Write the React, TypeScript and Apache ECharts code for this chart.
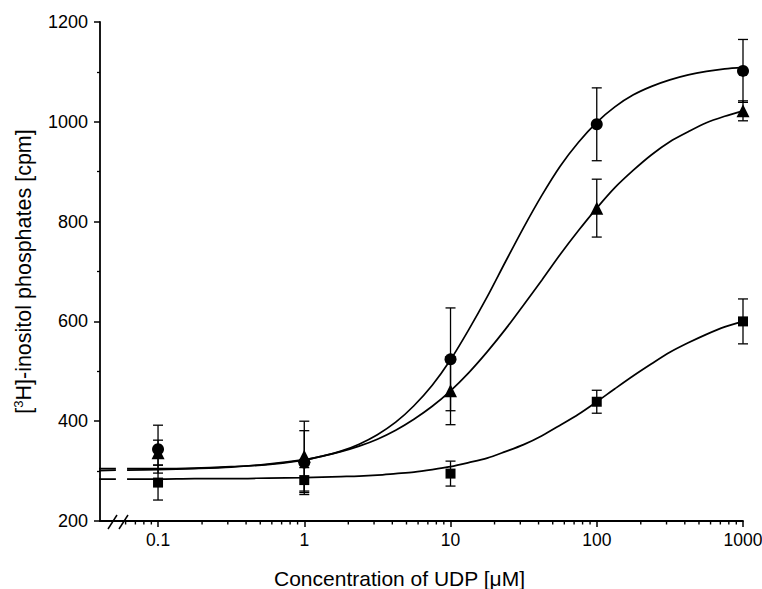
import React, { useEffect, useRef } from "react";
import * as echarts from "echarts";

// Concentrations of UDP (µM) at which measurements were taken
const CONC = [0.1, 1, 10, 100, 1000];
const TICK_VALUES = [0.1, 1, 10, 100, 1000];
const TICK_LABELS = ["0.1", "1", "10", "100", "1000"];
const MINOR_TICKS = [
  0.06, 0.07, 0.08, 0.09,
  0.2, 0.3, 0.4, 0.5, 0.6, 0.7, 0.8, 0.9,
  2, 3, 4, 5, 6, 7, 8, 9,
  20, 30, 40, 50, 60, 70, 80, 90,
  200, 300, 400, 500, 600, 700, 800, 900,
];

// measured means and errors (cpm)
const CIRCLE_MEAN = [344, 317, 524, 995, 1102];
const CIRCLE_ERR = [48, 64, 103, 73, 63];
const TRIANGLE_MEAN = [337, 330, 461, 827, 1022];
const TRIANGLE_ERR = [25, 70, 68, 58, 20];
const SQUARE_MEAN = [277, 282, 295, 439, 600];
const SQUARE_ERR = [35, 25, 25, 23, 45];

// fitted curves (null = axis break gap)
const CURVE_X = [0.0382, 0.0515, null, 0.0614, 0.1, 0.178, 0.316, 0.562, 1, 1.33, 1.78, 2.37, 3.16, 4.22, 5.62, 7.5, 10, 13.3, 17.8, 23.7, 31.6, 42.2, 56.2, 75, 100, 133, 178, 237, 316, 422, 562, 750, 1000];
const CIRCLE_CURVE = [305, 305, null, 305, 305, 306, 309, 313, 322, 330, 340, 354, 373, 398, 431, 472, 523, 583, 649, 719, 788, 853, 911, 959, 999, 1030, 1054, 1071, 1084, 1094, 1101, 1106, 1109];
const TRIANGLE_CURVE = [301, 302, null, 302, 303, 305, 308, 314, 323, 330, 339, 350, 364, 382, 404, 430, 461, 497, 539, 584, 633, 683, 734, 782, 827, 868, 903, 934, 960, 980, 998, 1011, 1022];
const SQUARE_CURVE = [284, 284, null, 284, 284, 285, 285, 286, 287, 288, 289, 290, 292, 295, 298, 303, 309, 317, 326, 339, 353, 371, 392, 414, 439, 465, 491, 515, 538, 557, 574, 589, 600];

const X_MIN = 0.0401;
const X_MAX = 1000;
const Y_MIN = 200;
const Y_MAX = 1200;
const FONT = "Liberation Sans, Arial, Helvetica, sans-serif";

const lg = (v: number) => Math.log10(v);

function curveData(ys: (number | null)[]) {
  return CURVE_X.map((x, i) =>
    x === null || ys[i] === null ? ["-", "-"] : [lg(x), ys[i] as number]
  );
}

function pointData(ys: number[]) {
  return CONC.map((c, i) => [lg(c), ys[i]]);
}

function errData(ys: number[], es: number[]) {
  return CONC.map((c, i) => [lg(c), ys[i], es[i]]);
}

function errorSeries(name: string, ys: number[], es: number[]) {
  return {
    type: "custom",
    name,
    z: 3,
    clip: false,
    data: errData(ys, es),
    renderItem: (params: any, api: any) => {
      const x = api.value(0);
      const y = api.value(1);
      const e = api.value(2);
      const top = api.coord([x, y + e]);
      const bot = api.coord([x, y - e]);
      const hw = 5;
      const style = { stroke: "#000", lineWidth: 1.3 };
      return {
        type: "group",
        children: [
          { type: "line", shape: { x1: top[0], y1: top[1], x2: bot[0], y2: bot[1] }, style },
          { type: "line", shape: { x1: top[0] - hw, y1: top[1], x2: top[0] + hw, y2: top[1] }, style },
          { type: "line", shape: { x1: bot[0] - hw, y1: bot[1], x2: bot[0] + hw, y2: bot[1] }, style },
        ],
      };
    },
  };
}

function minorTickSeries() {
  return {
    type: "custom",
    z: 4,
    clip: false,
    silent: true,
    data: MINOR_TICKS.map((v) => [lg(v), Y_MIN]),
    renderItem: (params: any, api: any) => {
      const p = api.coord([api.value(0), api.value(1)]);
      return {
        type: "line",
        shape: { x1: p[0], y1: p[1], x2: p[0], y2: p[1] + 3.5 },
        style: { stroke: "#000", lineWidth: 1.4 },
      };
    },
  };
}

function curveSeries(ys: (number | null)[]) {
  return {
    type: "line",
    data: curveData(ys),
    showSymbol: false,
    symbol: "none",
    smooth: 0.3,
    connectNulls: false,
    clip: false,
    z: 2,
    lineStyle: { color: "#000", width: 1.7 },
  };
}

function pointSeries(ys: number[], symbol: string, size: number) {
  return {
    type: "scatter",
    data: pointData(ys),
    symbol,
    symbolSize: size,
    z: 5,
    itemStyle: { color: "#000", opacity: 1 },
  };
}

export default function App() {
  const ref = useRef<HTMLDivElement>(null);

  useEffect(() => {
    if (!ref.current) return;
    const chart = echarts.init(ref.current, undefined, { renderer: "svg" });
    const axisLine = { show: true, onZero: false, lineStyle: { color: "#000", width: 1.8 } };
    chart.setOption({
      animation: false,
      backgroundColor: "#fff",
      grid: {
        left: 100,
        right: 19,
        top: 22,
        bottom: 68,
        containLabel: false,
        outerBoundsMode: "none",
      },
      xAxis: {
        type: "value",
        min: lg(X_MIN),
        max: lg(X_MAX),
        axisLine,
        splitLine: { show: false },
        axisTick: {
          show: true,
          inside: false,
          length: 6,
          lineStyle: { color: "#000", width: 1.5 },
          customValues: TICK_VALUES.map(lg),
        },
        axisLabel: {
          show: true,
          margin: 10,
          color: "#000",
          fontFamily: FONT,
          fontSize: 17.5,
          customValues: TICK_VALUES.map(lg),
          formatter: (v: number) => {
            const idx = TICK_VALUES.findIndex((t) => Math.abs(lg(t) - v) < 1e-6);
            return idx >= 0 ? TICK_LABELS[idx] : "";
          },
        },
        name: "Concentration of UDP [μM]",
        nameLocation: "middle",
        nameGap: 47,
        nameTextStyle: {
          color: "#000",
          fontFamily: FONT,
          fontSize: 21,
          padding: [0, 44, 0, 0],
        },
      },
      yAxis: {
        type: "value",
        min: Y_MIN,
        max: Y_MAX,
        interval: 200,
        axisLine,
        splitLine: { show: false },
        axisTick: { show: true, length: 6, lineStyle: { color: "#000", width: 1.5 } },
        minorTick: { show: true, splitNumber: 2, length: 3, lineStyle: { color: "#000", width: 1.3 } },
        axisLabel: {
          color: "#000",
          fontFamily: FONT,
          fontSize: 18,
          margin: 12,
          formatter: (v: number) => String(v),
        },
        name: "[{s|3}H]-inositol phosphates [cpm]",
        nameLocation: "middle",
        nameRotate: 90,
        nameGap: 64,
        nameTextStyle: {
          color: "#000",
          fontFamily: FONT,
          fontSize: 21.5,
          lineHeight: 24,
          rich: {
            s: { fontSize: 13, fontFamily: FONT, color: "#000", verticalAlign: "top", lineHeight: 15 },
          },
        },
      },
      graphic: [
        {
          type: "line",
          shape: { x1: 108, y1: 529, x2: 117, y2: 515 },
          style: { stroke: "#000", lineWidth: 1.5 },
        },
        {
          type: "line",
          shape: { x1: 119, y1: 529, x2: 128, y2: 515 },
          style: { stroke: "#000", lineWidth: 1.5 },
        },
      ],
      series: [
        minorTickSeries(),
        curveSeries(CIRCLE_CURVE),
        curveSeries(TRIANGLE_CURVE),
        curveSeries(SQUARE_CURVE),
        errorSeries("circle-err", CIRCLE_MEAN, CIRCLE_ERR),
        errorSeries("triangle-err", TRIANGLE_MEAN, TRIANGLE_ERR),
        errorSeries("square-err", SQUARE_MEAN, SQUARE_ERR),
        pointSeries(CIRCLE_MEAN, "circle", 12),
        pointSeries(TRIANGLE_MEAN, "triangle", 13),
        pointSeries(SQUARE_MEAN, "rect", 10),
      ],
    });
    return () => chart.dispose();
  }, []);

  return (
    <div
      ref={ref}
      style={{ position: "fixed", left: 0, top: 0, width: 762, height: 589, background: "#fff" }}
    />
  );
}
